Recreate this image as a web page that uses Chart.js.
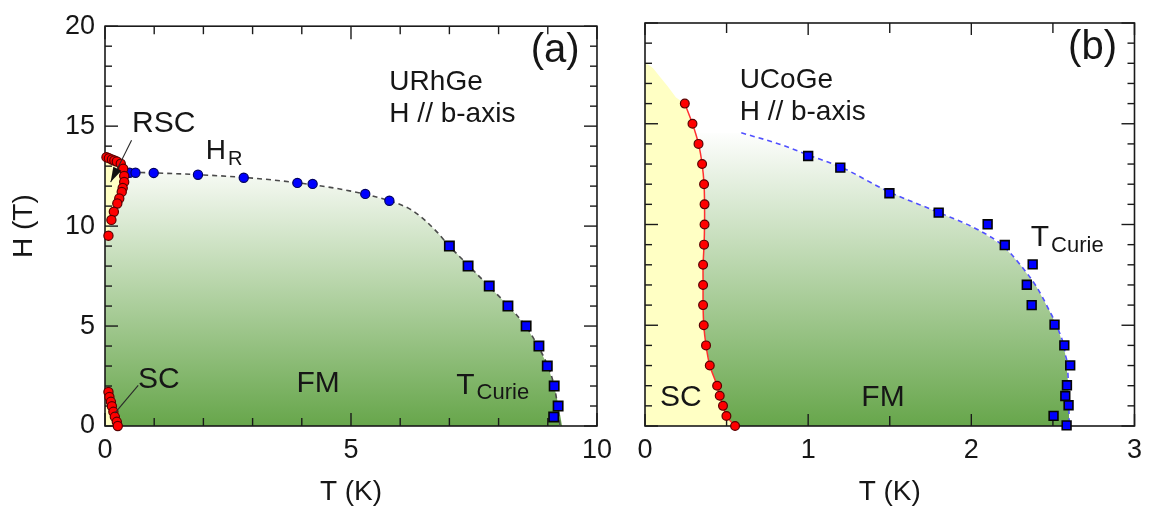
<!DOCTYPE html>
<html><head><meta charset="utf-8">
<script src="https://cdn.jsdelivr.net/npm/chart.js@4.4.1/dist/chart.umd.min.js"></script>
<style>
html,body{margin:0;padding:0;background:#fff;width:1150px;height:512px;overflow:hidden}
#ca{position:absolute;left:0;top:0}
#cb{position:absolute;left:620px;top:0}
</style></head><body>
<canvas id="ca" width="620" height="512"></canvas>
<canvas id="cb" width="530" height="512"></canvas>
<script>
// ---------- Panel (a): URhGe, H // b-axis ----------
const aHrT = [0.5, 0.62, 0.99, 1.89, 2.82, 3.91, 4.22, 5.29, 5.78];
const aHrH = [12.67, 12.67, 12.66, 12.57, 12.42, 12.16, 12.11, 11.61, 11.27];
const aCurieT = [7.0, 7.38, 7.81, 8.19, 8.56, 8.82, 8.99, 9.13, 9.21, 9.12];
const aCurieH = [9, 8, 7, 6, 5, 4, 3, 2, 1, 0.45];
const aRscT = [0.03, 0.08, 0.14, 0.19, 0.24, 0.32, 0.37, 0.39, 0.39, 0.36, 0.34, 0.29, 0.25, 0.18, 0.13, 0.07];
const aRscH = [13.45, 13.4, 13.33, 13.28, 13.23, 13.12, 12.87, 12.51, 12.21, 11.91, 11.71, 11.38, 11.13, 10.72, 10.31, 9.52];
const aScT = [0.07, 0.09, 0.12, 0.14, 0.17, 0.2, 0.24, 0.26];
const aScH = [1.7, 1.45, 1.21, 0.99, 0.71, 0.46, 0.21, 0.0];
const aLineT = [0.35, 1, 2, 3, 4, 5, 5.8, 6.2, 6.5, 6.75, 7.0, 7.4, 7.8, 8.2, 8.55, 8.8, 9.0, 9.13, 9.2, 9.25];
const aLineH = [12.7, 12.66, 12.56, 12.4, 12.14, 11.75, 11.25, 10.85, 10.3, 9.7, 9.0, 8.0, 7.0, 6.0, 5.0, 4.0, 3.0, 2.0, 1.0, 0];
const aFmEdgeT = [0, 0.35, 1, 2, 3, 4, 5, 5.8, 6.2, 6.5, 6.75, 7.0, 7.4, 7.8, 8.2, 8.55, 8.8, 9.0, 9.13, 9.22, 9.29, 0];
const aFmEdgeH = [12.7, 12.7, 12.66, 12.56, 12.4, 12.14, 11.75, 11.25, 10.85, 10.3, 9.7, 9.0, 8.0, 7.0, 6.0, 5.0, 4.0, 3.0, 2.0, 1.0, 0, 0];
const aXTicks = [0, 5, 10];
const aYTicks = [0, 5, 10, 15, 20];

// ---------- Panel (b): UCoGe, H // b-axis ----------
const bScT = [0.244, 0.291, 0.328, 0.350, 0.362, 0.365, 0.365, 0.362, 0.356, 0.356, 0.356, 0.360, 0.374, 0.397, 0.442, 0.458, 0.478, 0.499, 0.552];
const bScH = [16, 15, 14, 13, 12, 11, 10, 9, 8, 7, 6, 5, 4, 3, 2, 1.5, 1, 0.5, 0];
const bCurieT = [1.0, 1.197, 1.498, 1.80, 2.10, 2.205, 2.376, 2.34, 2.37, 2.51, 2.57, 2.606, 2.586, 2.576, 2.596, 2.504, 2.584];
const bCurieH = [13.4, 12.82, 11.55, 10.59, 10.01, 8.98, 8.02, 7.01, 6.0, 5.03, 4.0, 3.01, 2.02, 1.49, 1.03, 0.5, 0.03];
const bLineT = [0.59, 0.82, 1.0, 1.2, 1.5, 1.8, 2.05, 2.2, 2.3, 2.4, 2.48, 2.535, 2.575, 2.595, 2.6];
const bLineH = [14.55, 14.0, 13.45, 12.85, 11.6, 10.6, 9.7, 8.9, 8.0, 6.9, 5.7, 4.75, 3.6, 2.0, 0];
const bCapT = [0, 0.05, 0.09, 0.14, 0.19];
const bCapH = [18.05, 17.75, 17.35, 16.85, 16.3];
const bXTicks = [0, 1, 2, 3];

const FONT = "'Liberation Sans', Arial, Helvetica, sans-serif";
const INK = '#161616';
const pts = (xs, ys) => xs.map((v, i) => ({x: v, y: ys[i]}));

const regionsPlugin = {
  id: 'regions',
  beforeDatasetsDraw(chart, args, opts) {
    const {ctx, chartArea: a, scales: {x, y}} = chart;
    ctx.save();
    ctx.beginPath(); ctx.rect(a.left, a.top, a.width, a.height); ctx.clip();
    for (const r of opts.list || []) {
      ctx.beginPath();
      r.t.forEach((t, i) => {
        const px = x.getPixelForValue(t), py = y.getPixelForValue(r.h[i]);
        i ? ctx.lineTo(px, py) : ctx.moveTo(px, py);
      });
      ctx.closePath();
      if (r.gradient) {
        const g = ctx.createLinearGradient(0, y.getPixelForValue(r.gradient.from), 0, y.getPixelForValue(r.gradient.to));
        g.addColorStop(0, r.gradient.top);
        g.addColorStop(1, r.gradient.bottom);
        ctx.fillStyle = g;
      } else ctx.fillStyle = r.color;
      ctx.fill();
    }
    ctx.restore();
  }
};

const framePlugin = {
  id: 'frame',
  beforeDatasetsDraw(chart, args, o) {
    const {ctx, chartArea: a, scales: {x, y}} = chart;
    ctx.save();
    ctx.strokeStyle = '#1a1a1a';
    ctx.lineWidth = 1.6;
    ctx.strokeRect(a.left, a.top, a.width, a.height);
    ctx.lineWidth = 1.4;
    const seg = (x1, y1, x2, y2) => { ctx.beginPath(); ctx.moveTo(x1, y1); ctx.lineTo(x2, y2); ctx.stroke(); };
    const isMajor = (v, m) => Math.abs(v / m - Math.round(v / m)) < 1e-6;
    const nx = Math.round((x.max - x.min) / o.xMinor);
    for (let i = 0; i <= nx; i++) {
      const v = x.min + i * o.xMinor, px = x.getPixelForValue(v);
      const L = isMajor(v, o.xMajor) ? o.xMajorLen : o.xMinorLen;
      seg(px, a.bottom, px, a.bottom - L);
      seg(px, a.top, px, a.top + L);
    }
    const ny = Math.round((y.max - y.min) / o.yMinor);
    for (let i = 0; i <= ny; i++) {
      const v = y.min + i * o.yMinor, py = y.getPixelForValue(v);
      const L = isMajor(v, o.yMajor) ? o.yMajorLen : o.yMinorLen;
      seg(a.left, py, a.left + L, py);
      seg(a.right, py, a.right - L, py);
    }
    ctx.restore();
  }
};

const notesPlugin = {
  id: 'notes',
  afterDatasetsDraw(chart, args, opts) {
    const {ctx, scales: {x, y}} = chart;
    ctx.save();
    for (const l of opts.lines || []) {
      const x1 = x.getPixelForValue(l.from[0]), y1 = y.getPixelForValue(l.from[1]);
      const x2 = x.getPixelForValue(l.to[0]), y2 = y.getPixelForValue(l.to[1]);
      ctx.strokeStyle = '#2a2a2a'; ctx.lineWidth = 1.1;
      ctx.beginPath(); ctx.moveTo(x1, y1); ctx.lineTo(x2, y2); ctx.stroke();
      if (l.arrow) {
        const ang = Math.atan2(y2 - y1, x2 - x1), L = 15, W = 4.5;
        const bx = x2 - L * Math.cos(ang), by = y2 - L * Math.sin(ang);
        ctx.fillStyle = '#111';
        ctx.beginPath(); ctx.moveTo(x2, y2);
        ctx.lineTo(bx + W * Math.sin(ang), by - W * Math.cos(ang));
        ctx.lineTo(bx - W * Math.sin(ang), by + W * Math.cos(ang));
        ctx.closePath(); ctx.fill();
      }
    }
    for (const t of opts.texts || []) {
      const px = x.getPixelForValue(t.at[0]), py = y.getPixelForValue(t.at[1]);
      ctx.font = t.size + 'px ' + FONT;
      ctx.fillStyle = INK;
      ctx.textBaseline = 'middle';
      ctx.textAlign = t.align || 'left';
      ctx.fillText(t.text, px, py);
      if (t.sub) {
        const w = ctx.measureText(t.text).width;
        ctx.font = t.sub.size + 'px ' + FONT;
        ctx.textAlign = 'left';
        ctx.fillText(t.sub.text, px + w + 2, py + t.sub.dy);
      }
    }
    ctx.restore();
  }
};

const redPts = {type: 'scatter', pointStyle: 'circle', pointRadius: 4.6, pointBackgroundColor: '#ff0000', pointBorderColor: '#5a0000', pointBorderWidth: 1.2, showLine: false, clip: false};
const bluePts = {type: 'scatter', pointStyle: 'circle', pointRadius: 4.6, pointBackgroundColor: '#0000ff', pointBorderColor: '#000060', pointBorderWidth: 1.2, showLine: false, clip: false};
const blueSq = {type: 'scatter', pointStyle: 'rect', pointRadius: 6.6, pointBackgroundColor: '#0000ff', pointBorderColor: '#050505', pointBorderWidth: 1.6, showLine: false, clip: false};

function makeChart(id, cfg) {
  return new Chart(document.getElementById(id), {
    type: 'scatter',
    data: {datasets: cfg.datasets},
    plugins: [regionsPlugin, framePlugin, notesPlugin],
    options: {
      responsive: false, animation: false, devicePixelRatio: 1,
      layout: {padding: cfg.padding},
      plugins: {
        legend: {display: false}, tooltip: {enabled: false},
        regions: {list: cfg.regions},
        frame: cfg.frame,
        notes: {texts: cfg.texts, lines: cfg.lines}
      },
      scales: {
        x: {
          type: 'linear', min: cfg.xMin, max: cfg.xMax,
          afterBuildTicks: s => { s.ticks = cfg.xTicks.map(v => ({value: v})); },
          afterFit: s => { s.height = 86; },
          grid: {display: false, drawTicks: false}, border: {display: false},
          ticks: {font: {family: FONT, size: 27}, color: INK, padding: 8, maxRotation: 0, autoSkip: false},
          title: {display: true, text: 'T (K)', font: {family: FONT, size: 28}, color: INK, padding: {top: 0, bottom: 3}}
        },
        y: {
          type: 'linear', min: 0, max: 20,
          afterBuildTicks: s => { s.ticks = cfg.yTicks.map(v => ({value: v})); },
          afterFit: s => { s.width = cfg.yWidth; },
          grid: {display: false, drawTicks: false}, border: {display: false},
          ticks: {display: cfg.yLabels, font: {family: FONT, size: 27}, color: INK, padding: 10},
          title: {display: cfg.yLabels, text: 'H (T)', font: {family: FONT, size: 28}, color: INK, padding: {top: 7, bottom: 0}}
        }
      }
    }
  });
}

makeChart('ca', {
  padding: {left: 0, top: 23, right: 22, bottom: 0},
  yWidth: 105, yLabels: true, xMin: 0, xMax: 10, xTicks: aXTicks, yTicks: aYTicks,
  frame: {xMinor: 1, xMajor: 5, xMinorLen: 8, xMajorLen: 13, yMinor: 1, yMajor: 5, yMinorLen: 7, yMajorLen: 13},
  regions: [
    {t: aFmEdgeT, h: aFmEdgeH, gradient: {from: 13, to: 0, top: '#fafcf8', bottom: '#67a64b'}},
    {t: [0, ...aRscT, 0], h: [aRscH[0], ...aRscH, aRscH[aRscH.length - 1]], color: '#ffffc4'},
    {t: [0, ...aScT, 0], h: [aScH[0], ...aScH, 0], color: '#ffffc4'}
  ],
  lines: [
    {from: [0.54, 14.3], to: [0.115, 12.2], arrow: true},
    {from: [0.675, 2.03], to: [0.2, 0.64]}
  ],
  texts: [
    {text: '(a)', at: [9.15, 18.76], size: 40, align: 'center'},
    {text: 'URhGe', at: [5.78, 17.17], size: 28},
    {text: 'H // b-axis', at: [5.78, 15.58], size: 28},
    {text: 'RSC', at: [0.55, 15.14], size: 30},
    {text: 'H', at: [2.05, 13.75], size: 28, sub: {text: 'R', size: 20, dy: 8}},
    {text: 'SC', at: [0.67, 2.33], size: 30},
    {text: 'FM', at: [3.89, 2.13], size: 30},
    {text: 'T', at: [7.14, 2.03], size: 30, sub: {text: 'Curie', size: 22, dy: 8}}
  ],
  datasets: [
    Object.assign({data: pts(aRscT, aRscH)}, redPts),
    Object.assign({data: pts(aScT, aScH)}, redPts),
    Object.assign({data: pts(aHrT, aHrH)}, bluePts),
    Object.assign({data: pts(aCurieT, aCurieH)}, blueSq),
    {type: 'line', data: pts(aLineT, aLineH), borderColor: '#4a4a4a', borderWidth: 1.6, borderDash: [5, 4], pointRadius: 0, cubicInterpolationMode: 'monotone', fill: false, clip: false}
  ]
});

makeChart('cb', {
  padding: {left: 0, top: 23, right: 14, bottom: 0},
  yWidth: 25, yLabels: false, xMin: 0, xMax: 3, xTicks: bXTicks, yTicks: aYTicks,
  frame: {xMinor: 0.5, xMajor: 1, xMinorLen: 10, xMajorLen: 12, yMinor: 1, yMajor: 5, yMinorLen: 7, yMajorLen: 13},
  regions: [
    {t: [0, ...bLineT, 0], h: [bLineH[0], ...bLineH, 0], gradient: {from: 14.7, to: 0, top: '#ffffff', bottom: '#67a64b'}},
    {t: [0, ...bCapT, ...bScT, 0], h: [0, ...bCapH, ...bScH, 0], color: '#ffffc4'}
  ],
  lines: [],
  texts: [
    {text: '(b)', at: [2.743, 18.76], size: 40, align: 'center'},
    {text: 'UCoGe', at: [0.58, 17.17], size: 28},
    {text: 'H // b-axis', at: [0.58, 15.58], size: 28},
    {text: 'T', at: [2.364, 9.33], size: 30, sub: {text: 'Curie', size: 22, dy: 8}},
    {text: 'SC', at: [0.092, 1.39], size: 30},
    {text: 'FM', at: [1.326, 1.39], size: 30}
  ],
  datasets: [
    Object.assign({data: pts(bScT, bScH)}, redPts, {pointRadius: 4.4}),
    Object.assign({data: pts(bCurieT, bCurieH)}, blueSq, {pointRadius: 6.2}),
    {type: 'line', data: pts(bScT, bScH), borderColor: '#ff3030', borderWidth: 1.5, pointRadius: 0, tension: 0.3, fill: false, clip: false},
    {type: 'line', data: pts(bLineT, bLineH), borderColor: '#5050ff', borderWidth: 1.6, borderDash: [5, 4], pointRadius: 0, cubicInterpolationMode: 'monotone', fill: false, clip: false}
  ]
});
</script>
</body></html>
